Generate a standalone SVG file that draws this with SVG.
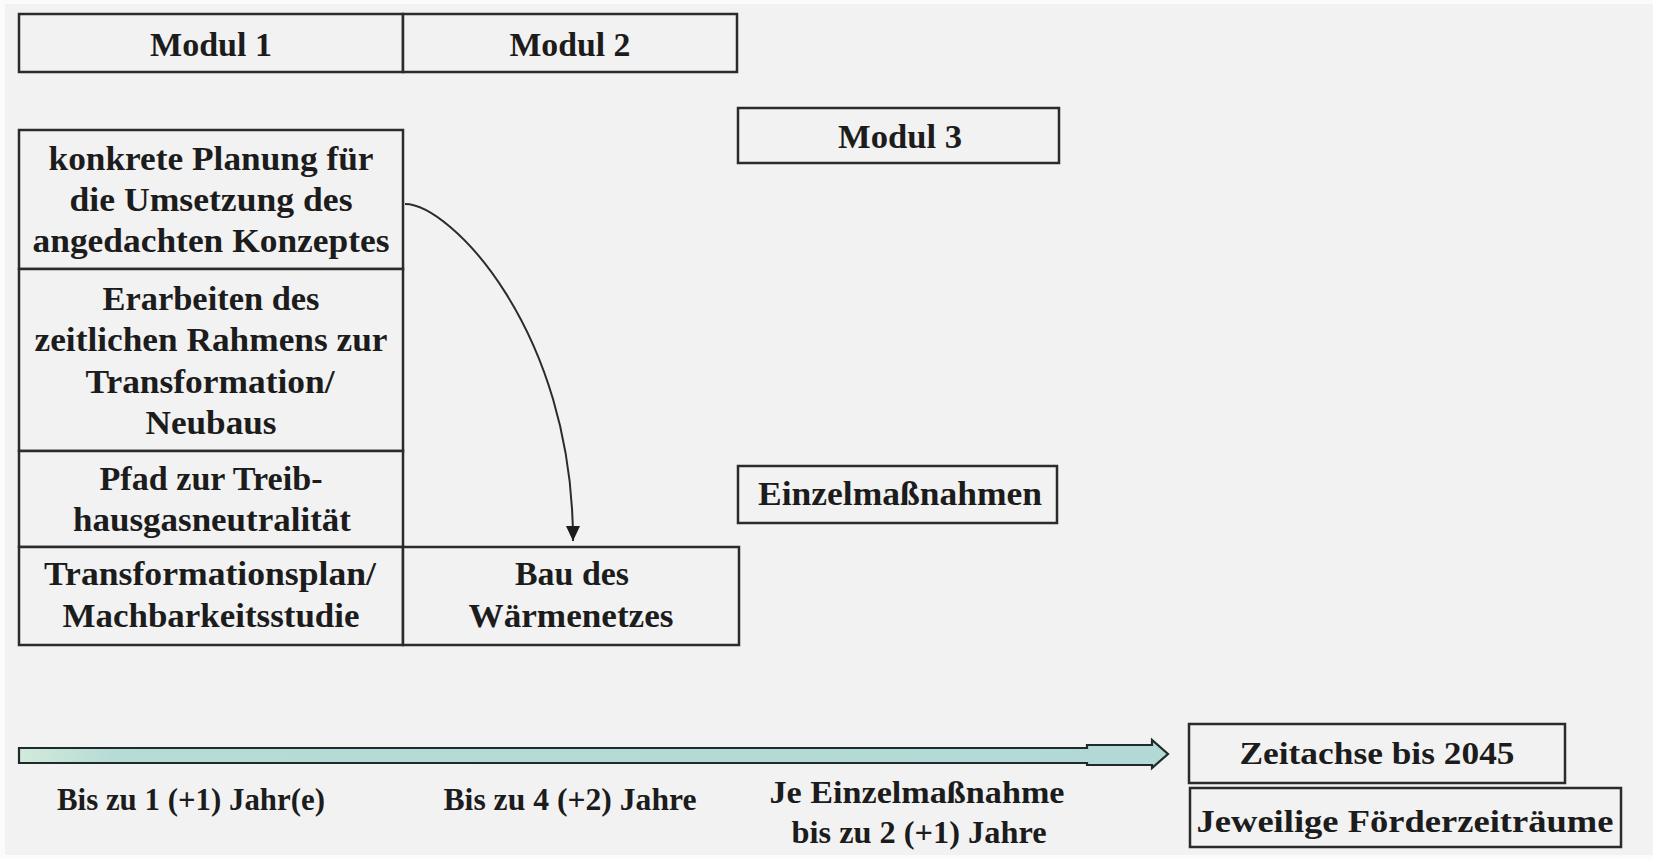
<svg xmlns="http://www.w3.org/2000/svg" width="1653" height="859" viewBox="0 0 1653 859">
<style>
.box{fill:#f2f2f2;stroke:#2b2b2b;stroke-width:2.5}
.t{font-family:"Liberation Serif","Times New Roman",serif;font-weight:bold;font-size:34px;fill:#1c1c1c;text-anchor:middle}
.s{font-size:32px}
.con{fill:none;stroke:#2b2b2b;stroke-width:2}
</style>
<defs>
<marker id="ah" markerWidth="15" markerHeight="14" refX="15" refY="7" orient="auto" markerUnits="userSpaceOnUse" viewBox="0 0 15 14">
<path d="M0,0 L15,7 L0,14 Z" fill="#1c1c1c"/>
</marker>
<linearGradient id="tl" x1="0" y1="0" x2="1" y2="0">
<stop offset="0" stop-color="#d3eadb"/>
<stop offset="0.08" stop-color="#b7dcd6"/>
<stop offset="1" stop-color="#b3d9d6"/>
</linearGradient>
</defs>
<rect x="0" y="0" width="1653" height="859" fill="#fbfbfb"/>
<rect x="5" y="4" width="1648" height="851" fill="#f2f2f2"/>

<g id="modul1"><rect class="box" x="19" y="14" width="384" height="58"/><text class="t" x="211" y="56" textLength="122" lengthAdjust="spacingAndGlyphs">Modul 1</text></g>
<g id="modul2"><rect class="box" x="403" y="14" width="334" height="58"/><text class="t" x="570" y="56" textLength="121" lengthAdjust="spacingAndGlyphs">Modul 2</text></g>
<g id="modul3"><rect class="box" x="738" y="108" width="321" height="55"/><text class="t" x="900" y="148" textLength="124" lengthAdjust="spacingAndGlyphs">Modul 3</text></g>

<g id="planung"><rect class="box" x="19" y="130" width="384" height="139"/>
<text class="t" x="211" y="170" textLength="325" lengthAdjust="spacingAndGlyphs">konkrete Planung für</text>
<text class="t" x="211" y="211" textLength="283" lengthAdjust="spacingAndGlyphs">die Umsetzung des</text>
<text class="t" x="211" y="252" textLength="357" lengthAdjust="spacingAndGlyphs">angedachten Konzeptes</text></g>

<g id="rahmen"><rect class="box" x="19" y="269" width="384" height="182"/>
<text class="t" x="211" y="310" textLength="217" lengthAdjust="spacingAndGlyphs">Erarbeiten des</text>
<text class="t" x="211" y="351" textLength="353" lengthAdjust="spacingAndGlyphs">zeitlichen Rahmens zur</text>
<text class="t" x="210" y="393" textLength="249" lengthAdjust="spacingAndGlyphs">Transformation/</text>
<text class="t" x="211" y="434" textLength="131" lengthAdjust="spacingAndGlyphs">Neubaus</text></g>

<g id="pfad"><rect class="box" x="19" y="451" width="384" height="96"/>
<text class="t" x="211" y="490" textLength="223" lengthAdjust="spacingAndGlyphs">Pfad zur Treib-</text>
<text class="t" x="212" y="531" textLength="278" lengthAdjust="spacingAndGlyphs">hausgasneutralität</text></g>

<g id="transformationsplan"><rect class="box" x="19" y="547" width="384" height="98"/>
<text class="t" x="210" y="585" textLength="332" lengthAdjust="spacingAndGlyphs">Transformationsplan/</text>
<text class="t" x="211" y="627" textLength="297" lengthAdjust="spacingAndGlyphs">Machbarkeitsstudie</text></g>

<g id="bau"><rect class="box" x="403" y="547" width="336" height="98"/>
<text class="t" x="572" y="585" textLength="114" lengthAdjust="spacingAndGlyphs">Bau des</text>
<text class="t" x="571" y="627" textLength="205" lengthAdjust="spacingAndGlyphs">Wärmenetzes</text></g>

<g id="einzelmassnahmen"><rect class="box" x="738" y="466" width="319" height="57"/>
<text class="t" x="900" y="505" textLength="284" lengthAdjust="spacingAndGlyphs">Einzelmaßnahmen</text></g>

<g id="connectors">
<path class="con" d="M405,204 C450,204 573,330 573,541" marker-end="url(#ah)"/>
</g>

<g id="zeitachse-pfeil">
<polygon points="19,748 1087,748 1087,745 1152,745 1152,740 1168,754 1152,768 1152,765 1087,765 1087,763 19,763" fill="url(#tl)" stroke="#1f2b2b" stroke-width="2.2" stroke-linejoin="miter"/>
</g>

<g id="labels">
<text class="t s" x="191" y="810" textLength="268" lengthAdjust="spacingAndGlyphs">Bis zu 1 (+1) Jahr(e)</text>
<text class="t s" x="570" y="810" textLength="253" lengthAdjust="spacingAndGlyphs">Bis zu 4 (+2) Jahre</text>
<text class="t s" x="917" y="803" textLength="295" lengthAdjust="spacingAndGlyphs">Je Einzelmaßnahme</text>
<text class="t s" x="919" y="843" textLength="255" lengthAdjust="spacingAndGlyphs">bis zu 2 (+1) Jahre</text>
</g>

<g id="zeitachse"><rect class="box" x="1189" y="724" width="376" height="59"/>
<text class="t s" x="1377" y="764" textLength="275" lengthAdjust="spacingAndGlyphs">Zeitachse bis 2045</text></g>
<g id="foerderzeitraeume"><rect class="box" x="1190" y="788" width="431" height="59"/>
<text class="t s" x="1405" y="832" textLength="417" lengthAdjust="spacingAndGlyphs">Jeweilige Förderzeiträume</text></g>
</svg>
